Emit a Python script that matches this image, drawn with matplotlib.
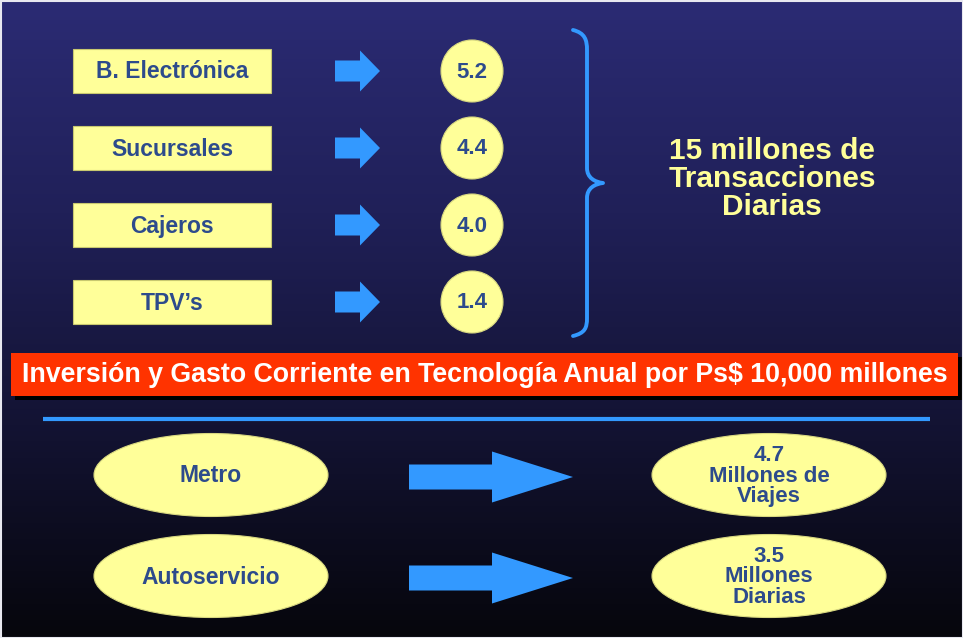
import numpy as np
import matplotlib
matplotlib.use("Agg")
import matplotlib.pyplot as plt
from matplotlib.patches import Rectangle, Circle, Ellipse, FancyArrow, PathPatch
from matplotlib.path import Path
from matplotlib.colors import LinearSegmentedColormap

# ---- data ----
channels = ["B. Electrónica", "Sucursales", "Cajeros", "TPV’s"]
channel_values = [5.2, 4.4, 4.0, 1.4]
total_text = "15 millones de\nTransacciones\nDiarias"
banner_text = "Inversión y Gasto Corriente en Tecnología Anual por Ps$ 10,000 millones"
services = ["Metro", "Autoservicio"]
service_values = [4.7, 3.5]
service_units = ["Millones de\nViajes", "Millones\nDiarias"]

# ---- style ----
W, H = 963, 638
YELLOW = "#ffff99"
TXT = "#2d4b8c"
BLUE = "#3399ff"
RED = "#ff3300"
FONT = ["Liberation Sans", "DejaVu Sans"]

fig = plt.figure(figsize=(W / 100, H / 100), dpi=100)
ax = fig.add_axes([0, 0, 1, 1])
ax.set_xlim(0, W)
ax.set_ylim(H, 0)
ax.axis("off")

# background gradient
cmap = LinearSegmentedColormap.from_list("bg", ["#2b2b74", "#202058", "#131333", "#06060c"])
grad = np.linspace(0, 1, 256).reshape(-1, 1)
ax.imshow(grad, cmap=cmap, extent=[0, W, H, 0], aspect="auto", zorder=0)
ax.add_patch(Rectangle((0.5, 0.5), W - 1, H - 1, fill=False, edgecolor="#e8e8f0", lw=1.5, zorder=10))

# ---- top section ----
row_y0, row_step = 71, 77
for i, (name, val) in enumerate(zip(channels, channel_values)):
    y = row_y0 + i * row_step
    ax.add_patch(Rectangle((73, y - 22), 198, 44, facecolor=YELLOW, edgecolor="#c8c870", lw=0.8, zorder=2))
    ax.text(172, y + 1, name, ha="center", va="center", fontsize=16.5, fontweight="bold",
            color=TXT, family=FONT, zorder=3)
    ax.add_patch(FancyArrow(335, y, 45, 0, width=21, head_width=41, head_length=20,
                            length_includes_head=True, color=BLUE, lw=0, zorder=2))
    ax.add_patch(Circle((472, y), 31, facecolor=YELLOW, edgecolor="#d8d880", lw=0.8, zorder=2))
    ax.text(472, y + 1, f"{val:.1f}", ha="center", va="center", fontsize=16, fontweight="bold",
            color=TXT, family=FONT, zorder=3)

# brace
verts = [(573, 30), (585, 33), (587, 40), (587, 50),
         (587, 168),
         (587, 178), (595, 182), (603, 183),
         (595, 184), (587, 188), (587, 198),
         (587, 318),
         (587, 328), (585, 333), (573, 336)]
codes = [Path.MOVETO, Path.CURVE4, Path.CURVE4, Path.CURVE4,
         Path.LINETO,
         Path.CURVE4, Path.CURVE4, Path.CURVE4,
         Path.CURVE4, Path.CURVE4, Path.CURVE4,
         Path.LINETO,
         Path.CURVE4, Path.CURVE4, Path.CURVE4]
ax.add_patch(PathPatch(Path(verts, codes), fill=False, edgecolor=BLUE, lw=2.8,
                       capstyle="round", joinstyle="round", zorder=2))

ax.text(772, 179, total_text, ha="center", va="center", fontsize=21.5, color=YELLOW,
        family=FONT, fontweight="bold", linespacing=0.98, zorder=3)

# ---- banner ----
ax.add_patch(Rectangle((15, 357), 947, 43, facecolor="#000000", lw=0, zorder=2))
ax.add_patch(Rectangle((11, 353), 947, 43, facecolor=RED, lw=0, zorder=3))
bt = ax.text(484.5, 375, banner_text, ha="center", va="center", fontsize=19, color="white",
             family=FONT, fontweight="bold", zorder=4)
fig.canvas.draw()
bb = bt.get_window_extent()
target = 928.0
bt.set_fontsize(19 * target / bb.width)

# blue separator line
ax.plot([43, 930], [419, 419], color=BLUE, lw=3, solid_capstyle="butt", zorder=2)

# ---- bottom section ----
bot_y0, bot_step = 475, 101
for i, (name, val, unit) in enumerate(zip(services, service_values, service_units)):
    y = bot_y0 + i * bot_step
    ax.add_patch(Ellipse((211, y), 234, 83, facecolor=YELLOW, edgecolor="#d8d880", lw=0.8, zorder=2))
    ax.text(211, y + 1, name, ha="center", va="center", fontsize=16.5, fontweight="bold",
            color=TXT, family=FONT, zorder=3)
    ax.add_patch(FancyArrow(409, y + 2, 164, 0, width=25, head_width=51, head_length=81,
                            length_includes_head=True, color=BLUE, lw=0, zorder=2))
    ax.add_patch(Ellipse((769, y), 234, 83, facecolor=YELLOW, edgecolor="#d8d880", lw=0.8, zorder=2))
    ax.text(769, y + 1, f"{val:.1f}\n{unit}", ha="center", va="center", fontsize=16, fontweight="bold",
            color=TXT, family=FONT, linespacing=0.98, zorder=3)

fig.savefig("out.png", dpi=100)
